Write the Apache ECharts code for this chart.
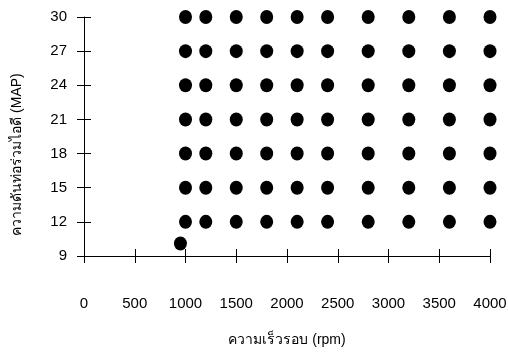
<!DOCTYPE html>
<html>
<head>
<meta charset="utf-8">
<script src="https://cdn.jsdelivr.net/npm/echarts@6/dist/echarts.min.js"></script>
<style>
  html, body { margin: 0; padding: 0; background: #fff; }
  #chart { width: 508px; height: 353px; }
</style>
</head>
<body>
<div id="chart"></div>
<script>
// test points: every rpm level crossed with every MAP level
const rpmLevels = [1000, 1200, 1500, 1800, 2100, 2400, 2800, 3200, 3600, 4000];
const mapLevels = [12, 15, 18, 21, 24, 27, 30];
// idle point
const idlePoint = [950, 10.1];

const xTicks = { min: 0, max: 4000, interval: 500 };
const yTicks = { min: 9, max: 30, interval: 3 };

const points = [];
rpmLevels.forEach((r) => mapLevels.forEach((m) => points.push([r, m])));
points.push(idlePoint);

const font = "'Liberation Sans', Arial, 'Noto Sans', sans-serif";
const ink = "#000";
const plain = (v) => String(v);

const chart = echarts.init(document.getElementById("chart"));
chart.setOption({
  animation: false,
  grid: { left: 84, right: 18, top: 17, bottom: 97, outerBoundsMode: "none", containLabel: false },
  xAxis: [
    {
      type: "value", ...xTicks,
      name: "ความเร็วรอบ (rpm)",
      nameLocation: "middle",
      nameGap: 77,
      nameTextStyle: { fontFamily: font, fontSize: 14, color: ink },
      splitLine: { show: false },
      axisLine: { lineStyle: { color: ink, width: 1 } },
      axisTick: { length: 7, lineStyle: { color: ink } },
      axisLabel: { margin: 40, fontFamily: font, fontSize: 15, color: ink, formatter: plain }
    },
    {
      type: "value", ...xTicks,
      position: "bottom",
      splitLine: { show: false },
      axisLine: { show: false },
      axisTick: { inside: true, length: 7, lineStyle: { color: ink } },
      axisLabel: { show: false }
    }
  ],
  yAxis: [
    {
      type: "value", ...yTicks,
      name: "ความดันท่อร่วมไอดี (MAP)",
      nameLocation: "middle",
      nameGap: 60,
      nameTextStyle: { fontFamily: font, fontSize: 14, color: ink, padding: [0, 36, 0, 0] },
      splitLine: { show: false },
      axisLine: { show: true, lineStyle: { color: ink, width: 1 } },
      axisTick: { show: true, length: 7, lineStyle: { color: ink } },
      axisLabel: { margin: 17, fontFamily: font, fontSize: 15, color: ink, formatter: plain }
    },
    {
      type: "value", ...yTicks,
      position: "left",
      splitLine: { show: false },
      axisLine: { show: false },
      axisTick: { show: true, inside: true, length: 7, lineStyle: { color: ink } },
      axisLabel: { show: false }
    }
  ],
  series: [
    {
      type: "scatter",
      xAxisIndex: 0,
      yAxisIndex: 0,
      symbol: "circle",
      symbolSize: [13, 14],
      itemStyle: { color: "#000", opacity: 1 },
      data: points
    }
  ]
});
</script>
</body>
</html>
